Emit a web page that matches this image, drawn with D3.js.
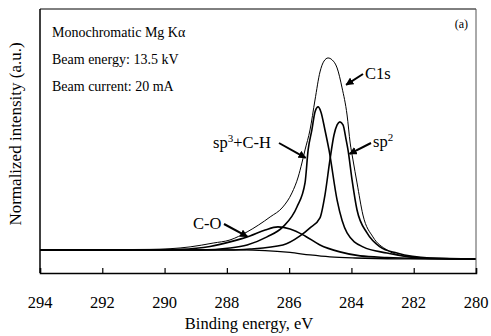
<!DOCTYPE html>
<html lang="en">
<head>
	<meta charset="UTF-8">
	<title>C1s XPS spectrum</title>
	<script src="https://d3js.org/d3.v7.min.js"></script>
	<style>
		body, html {
			margin: 0;
			padding: 0;
			background: #fff;
			overflow: hidden;
		}
		svg {
			display: block;
		}
		svg text {
			font-family: "Liberation Serif", "DejaVu Serif", serif !important;
			fill: #000;
		}
		.tick-label { font-size: 16.5px; text-anchor: middle; }
		.note { font-size: 14px; }
		.peak-label { font-size: 16.5px; }
	</style>
</head>
<body>
<div id="chart"></div>
	<script>
		// x ticks (binding energy, eV)
		const xTicks = [294, 292, 290, 288, 286, 284, 282, 280];

		// C1s envelope (thin line)
		const envelopeE = [294, 290.47, 289.18, 288.44, 287.90, 287.35, 286.61, 286.20, 285.91, 285.71, 285.59, 285.49, 285.33, 285.17, 285.01, 284.88, 284.75, 284.62, 284.46, 284.30, 284.14, 284.04, 283.95, 283.82, 283.63, 283.31, 282.86, 282.34, 281.48, 280];
		const envelopeI = [0, 0.003, 0.016, 0.036, 0.052, 0.094, 0.172, 0.224, 0.297, 0.380, 0.453, 0.521, 0.625, 0.781, 0.927, 0.984, 1.0, 0.99, 0.948, 0.844, 0.703, 0.557, 0.469, 0.349, 0.182, 0.068, 0.0, -0.031, -0.044, -0.047];

		// sp3 + C-H component
		const sp3E = [294, 288.86, 287.90, 287.35, 286.71, 286.20, 285.75, 285.49, 285.39, 285.27, 285.17, 285.07, 284.98, 284.85, 284.72, 284.46, 284.14, 283.63, 282.86, 281.80, 280];
		const sp3I = [0, 0, 0.010, 0.026, 0.068, 0.120, 0.224, 0.349, 0.521, 0.625, 0.719, 0.745, 0.719, 0.625, 0.521, 0.260, 0.089, 0.016, -0.016, -0.042, -0.047];

		// sp2 component
		const sp2E = [294, 287.90, 287.26, 286.20, 285.65, 285.33, 285.01, 284.85, 284.69, 284.56, 284.46, 284.37, 284.27, 284.17, 284.11, 283.98, 283.82, 283.50, 283.08, 282.54, 281.48, 280];
		const sp2I = [0, 0, 0.005, 0.026, 0.073, 0.115, 0.167, 0.286, 0.469, 0.599, 0.651, 0.667, 0.651, 0.573, 0.521, 0.365, 0.208, 0.089, 0.016, -0.016, -0.042, -0.047];

		// C-O component
		const coE = [294, 290.47, 289.50, 288.54, 287.90, 287.26, 286.77, 286.36, 285.97, 285.49, 285.01, 284.37, 283.72, 282.86, 281.80, 280];
		const coI = [0, 0, 0.003, 0.018, 0.042, 0.073, 0.104, 0.120, 0.109, 0.073, 0.026, -0.010, -0.031, -0.039, -0.044, -0.047];

		// Shirley background
		const bgE = [294, 287.58, 286.77, 285.97, 285.33, 284.69, 283.88, 282.44, 280];
		const bgI = [0, 0, -0.003, -0.013, -0.026, -0.036, -0.042, -0.046, -0.047];

		const notes = ["Monochromatic Mg K\u03b1", "Beam energy: 13.5 kV", "Beam current: 20 mA"];

		const serif = "'Liberation Serif', 'DejaVu Serif', serif";

		function drawChart() {
			const width = 491;
			const height = 336;
			const margin = { top: 9, right: 15, bottom: 63, left: 40 };

			const svg = d3.select("#chart")
				.append("svg")
				.attr("width", width)
				.attr("height", height)
				.attr("font-family", serif);

			const x = d3.scaleLinear()
				.domain([294, 280])
				.range([margin.left, width - margin.right]);

			const y = d3.scaleLinear()
				.domain([-0.12, 1.255])
				.range([height - margin.bottom, margin.top]);

			const line = d3.line()
				.x(d => x(d[0]))
				.y(d => y(d[1]))
				.curve(d3.curveMonotoneX);

			const pairs = (es, is) => es.map((e, i) => [e, is[i]]);

			// curves
			const curves = [
				{ data: pairs(bgE, bgI), w: 1.3 },
				{ data: pairs(coE, coI), w: 1.6 },
				{ data: pairs(sp2E, sp2I), w: 1.6 },
				{ data: pairs(sp3E, sp3I), w: 1.6 },
				{ data: pairs(envelopeE, envelopeI), w: 1 }
			];

			svg.selectAll(".curve")
				.data(curves)
				.enter()
				.append("path")
				.attr("class", "curve")
				.attr("d", d => line(d.data))
				.attr("fill", "none")
				.attr("stroke", "#000")
				.attr("stroke-width", d => d.w)
				.attr("stroke-linejoin", "round");

			// frame
			const x0 = x(294), x1 = x(280), y0 = y.range()[0], y1 = y.range()[1];
			svg.append("line").attr("x1", x0).attr("x2", x1).attr("y1", y1).attr("y2", y1)
				.attr("stroke", "#000").attr("stroke-width", 1);
			svg.append("line").attr("x1", x1).attr("x2", x1).attr("y1", y1).attr("y2", y0)
				.attr("stroke", "#555").attr("stroke-width", 1);
			svg.append("line").attr("x1", x0).attr("x2", x0).attr("y1", y1).attr("y2", y0)
				.attr("stroke", "#000").attr("stroke-width", 1.5);

			// bottom axis with inward ticks
			const xAxis = d3.axisBottom(x)
				.tickValues(xTicks)
				.tickSize(-5)
				.tickFormat("");
			const gx = svg.append("g")
				.attr("transform", `translate(0,${y0})`)
				.call(xAxis);
			gx.select(".domain").attr("stroke", "#000").attr("stroke-width", 1.5);
			gx.selectAll(".tick line").attr("stroke", "#000").attr("stroke-width", 1.2);

			svg.selectAll(".tick-label")
				.data(xTicks)
				.enter()
				.append("text")
				.attr("class", "tick-label")
				.attr("font-family", serif)
				.attr("x", d => x(d))
				.attr("y", 308)
				.text(d => d);

			svg.append("text")
				.attr("font-family", serif)
				.attr("x", 249)
				.attr("y", 329)
				.attr("text-anchor", "middle")
				.style("font-size", "16.5px")
				.text("Binding energy, eV");

			svg.append("text")
				.attr("font-family", serif)
				.attr("transform", "translate(21,134) rotate(-90)")
				.attr("text-anchor", "middle")
				.style("font-size", "17px")
				.text("Normalized intensity (a.u.)");

			// notes
			svg.selectAll(".note")
				.data(notes)
				.enter()
				.append("text")
				.attr("class", "note")
				.attr("font-family", serif)
				.attr("x", 52)
				.attr("y", (d, i) => 37 + i * 27)
				.text(d => d);

			svg.append("text")
				.attr("font-family", serif)
				.attr("x", 468)
				.attr("y", 28)
				.attr("text-anchor", "end")
				.style("font-size", "12px")
				.text("(a)");

			// arrowhead
			svg.append("defs").append("marker")
				.attr("id", "head")
				.attr("viewBox", "0 0 10 10")
				.attr("refX", 9)
				.attr("refY", 5)
				.attr("markerWidth", 4)
				.attr("markerHeight", 4)
				.attr("orient", "auto")
				.append("path")
				.attr("d", "M0,0 L10,5 L0,10 z")
				.attr("fill", "#000");

			// peak labels (position, arrow start, arrow target on curve)
			const labels = [
				{ text: "C1s", tx: 365, ty: 79, ax: 363, ay: 74, e: 284.17, i: 0.86 },
				{ text: "sp", sup: "2", tx: 373, ty: 147, ax: 371, ay: 143, e: 284.06, i: 0.50 },
				{ text: "sp", sup: "3", rest: "+C-H", tx: 213, ty: 148, ax: 279, ay: 143, e: 285.47, i: 0.48 },
				{ text: "C-O", tx: 193, ty: 229, ax: 224, ay: 224, e: 287.34, i: 0.07 }
			];

			labels.forEach(l => {
				const t = svg.append("text")
					.attr("class", "peak-label")
					.attr("font-family", serif)
					.attr("x", l.tx)
					.attr("y", l.ty);
				t.append("tspan").text(l.text);
				if (l.sup) t.append("tspan").attr("dy", -6).style("font-size", "11px").text(l.sup);
				if (l.rest) t.append("tspan").attr("dy", 6).text(l.rest);

				svg.append("line")
					.attr("x1", l.ax)
					.attr("y1", l.ay)
					.attr("x2", x(l.e))
					.attr("y2", y(l.i))
					.attr("stroke", "#000")
					.attr("stroke-width", 2)
					.attr("marker-end", "url(#head)");
			});
		}

		drawChart();
	</script>
</body>
</html>
